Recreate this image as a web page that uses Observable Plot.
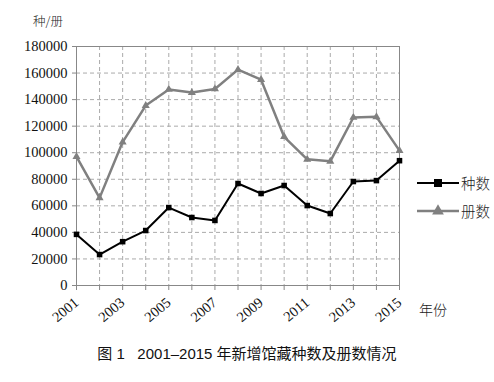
<!DOCTYPE html>
<html><head><meta charset="utf-8">
<script src="https://cdn.jsdelivr.net/npm/d3@7"></script>
<script src="https://cdn.jsdelivr.net/npm/@observablehq/plot@0.6"></script>
<style>
body{margin:0;background:#fff}
#wrap{position:relative;width:494px;height:382px;overflow:hidden}
#wrap svg.plot{position:absolute;left:0;top:0}
.lbl{position:absolute;font-family:"Noto Sans CJK SC";font-weight:300;color:#222;white-space:nowrap;line-height:1}
.leg{position:absolute;left:417px;display:flex;align-items:center;font-family:"Noto Sans CJK SC";font-size:14.5px;font-weight:300;color:#222;line-height:1}
#caption{position:absolute;left:0;width:494px;top:342px;text-align:center;font-family:"Liberation Sans","Noto Sans CJK SC";font-size:15px;color:#111;white-space:pre}
</style></head><body><div id="wrap"></div>
<script>
const years = [2001,2002,2003,2004,2005,2006,2007,2008,2009,2010,2011,2012,2013,2014,2015];
const zhongshu = [38500,23300,33000,41400,58700,51200,49000,76800,69300,75300,60200,54200,78300,79000,94000];
const ceshu = [97000,66000,108000,135500,147600,145300,148000,162600,155000,112000,95000,93500,126500,127000,101600];
const seriesNames = ["种数","册数"];
const seriesColors = ["#000000","#808080"];
const seriesSymbols = ["square","triangle"];
const yTicks = [0,20000,40000,60000,80000,100000,120000,140000,160000,180000];
const xLabelYears = [2001,2003,2005,2007,2009,2011,2013,2015];
const yUnit = "种/册";
const xUnit = "年份";
const captionText = "图 1   2001\u20132015 年新增馆藏种数及册数情况";

const data = years.flatMap((y,i)=>[
  {year:y,value:zhongshu[i],series:seriesNames[0]},
  {year:y,value:ceshu[i],series:seriesNames[1]}
]);

const chart = Plot.plot({
  width:494,height:335,
  marginLeft:76,marginRight:95,marginTop:46,marginBottom:50,
  style:{fontFamily:"'Liberation Serif', serif",fontSize:"14.5px",color:"#111",background:"transparent"},
  x:{domain:[2001,2015]},
  y:{domain:[0,180000]},
  color:{domain:seriesNames,range:seriesColors},
  symbol:{domain:seriesNames,range:seriesSymbols},
  marks:[
    Plot.gridX(years.slice(1,-1),{stroke:"#aaa",strokeOpacity:1,strokeDasharray:"4,3"}),
    Plot.gridY(yTicks.slice(1,-1),{stroke:"#aaa",strokeOpacity:1,strokeDasharray:"4,3"}),
    Plot.axisY(yTicks,{tickSize:4,tickPadding:5,stroke:"#888",tickFormat:d=>String(d),label:null}),
    Plot.axisX(years,{tickSize:5,tickPadding:10,stroke:"#888",tickRotate:-40,
      tickFormat:d=>xLabelYears.includes(d)?String(d):"",label:null}),
    Plot.frame({stroke:"#888"}),
    Plot.line(data,{x:"year",y:"value",stroke:"series",z:"series",strokeWidth:d=>d.series===seriesNames[0]?2:2.5}),
    Plot.dot(data,{x:"year",y:"value",symbol:"series",fill:"series",stroke:"none",r:d=>d.series===seriesNames[0]?5:4.6})
  ]
});
const wrap = document.getElementById("wrap");
wrap.appendChild(chart);

function addLabel(text,left,top,size,cls){
  const d=document.createElement("div");d.className=cls||"lbl";d.textContent=text;
  d.style.left=left+"px";d.style.top=top+"px";d.style.fontSize=size+"px";wrap.appendChild(d);
}
addLabel(yUnit,33,15,12.5);
addLabel(xUnit,419,302,14);

seriesNames.forEach((name,i)=>{
  const row=document.createElement("div");row.className="leg";
  row.style.top=(175+i*28)+"px";
  const sw=d3.create("svg").attr("width",42).attr("height",16);
  sw.append("line").attr("x1",0).attr("x2",42).attr("y1",8).attr("y2",8)
    .attr("stroke",seriesColors[i]).attr("stroke-width",i===0?2:2.5);
  sw.append("path").attr("transform","translate(21,8)")
    .attr("d",d3.symbol(i===0?d3.symbolSquare:d3.symbolTriangle,i===0?64:60)())
    .attr("fill",seriesColors[i]);
  row.appendChild(sw.node());
  const t=document.createElement("span");t.textContent=name;t.style.marginLeft="2px";
  row.appendChild(t);
  wrap.appendChild(row);
});

const cap=document.createElement("div");cap.id="caption";cap.textContent=captionText;wrap.appendChild(cap);
</script></body></html>
